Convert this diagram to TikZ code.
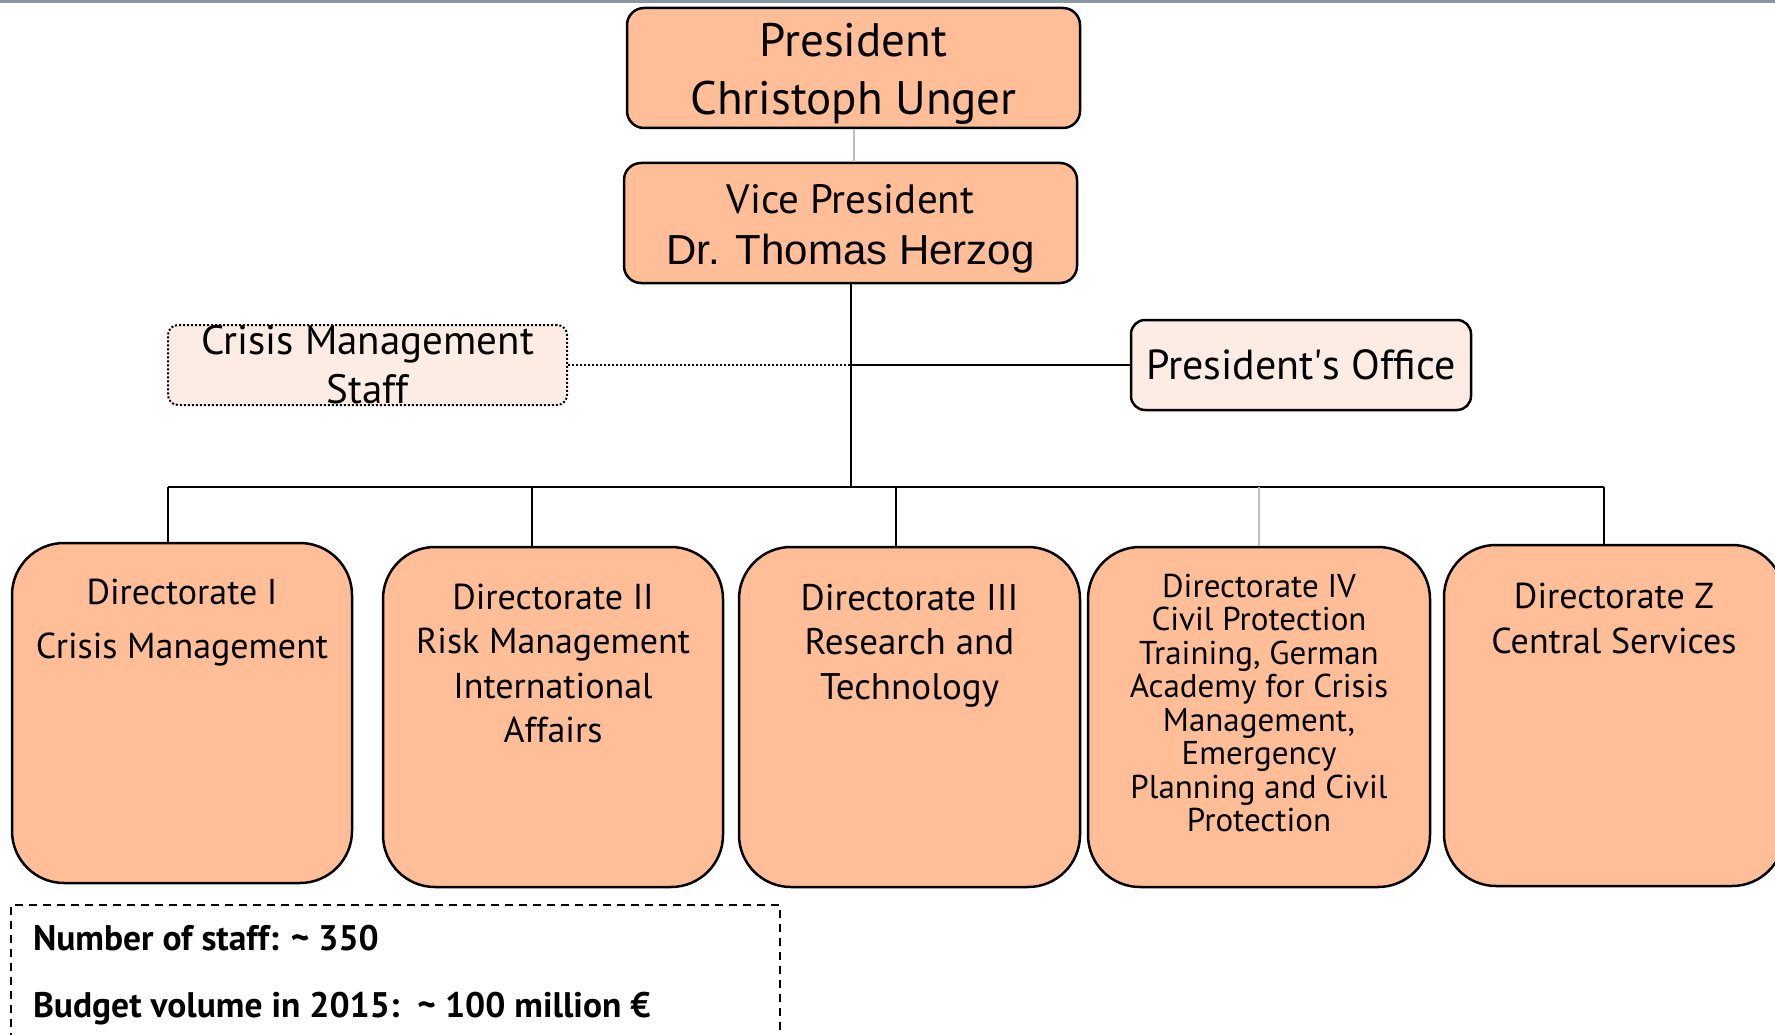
\documentclass[tikz,border=0pt]{standalone}
\usepackage{fontspec}
\setmainfont{PT Sans}
\newfontfamily\namefont{Liberation Sans}
\definecolor{salmon}{RGB}{255,190,152}
\definecolor{blush}{RGB}{253,236,228}
\definecolor{wireGray}{RGB}{190,190,190}
\definecolor{rimGray}{RGB}{138,150,163}
\tikzstyle{headBox}=[draw, line width=2.5pt, rounded corners=17pt, fill=salmon, inner sep=0pt]
\tikzstyle{sideBox}=[draw, line width=2.5pt, rounded corners=14pt, fill=blush, align=center, inner sep=0pt]
\tikzstyle{dirBox}=[draw, line width=2.5pt, rounded corners=52pt, fill=salmon, inner sep=0pt]
\tikzstyle{staffBox}=[draw, dash pattern=on 8pt off 6pt, line width=1.5pt, inner xsep=22pt, inner ysep=0pt]
% text set at the top of a box of fixed size
\newcommand{\topText}[4]{\parbox[c][#2][t]{#1}{\centering\vspace*{#3}#4\par}}

\begin{document}
\begin{tikzpicture}[x=1pt, y=-1pt]
\tikzstyle{wire}=[line width=2pt]
\tikzstyle{greyWire}=[line width=2pt, color=wireGray]
\useasboundingbox (0,0) rectangle (1775,1035);
\draw[line width=2.5pt, rimGray] (0,1.5) -- (1775,1.5);
% heads
\node[headBox] (pres) at (853.5,68) {\topText{453pt}{120pt}{15pt}{\fontsize{47}{58}\selectfont President\\Christoph Unger}};
\node[headBox] (vice) at (850.5,223) {\topText{453pt}{120pt}{21pt}{\fontsize{41}{51}\selectfont Vice President\\{\namefont\fontsize{42}{51}\selectfont Dr. Thomas Herzog}}};
\node[sideBox, dash pattern=on 2pt off 2pt, line width=2pt, rounded corners=10pt, minimum width=399pt, minimum height=80pt, font=\fontsize{41}{49}\selectfont] (cms) at (367.5,365) {Crisis Management\\Staff};
\node[sideBox, minimum width=340pt, minimum height=90pt, font=\fontsize{42}{48}\selectfont] (office) at (1301,365) {President\textquotesingle s Office};
% directorates
\node[dirBox] (dir1) at (182,713) {\topText{340pt}{340pt}{36pt}{\fontsize{36}{54}\selectfont Directorate I\\Crisis Management}};
\node[dirBox] (dir2) at (553,717) {\topText{340pt}{340pt}{37pt}{\fontsize{36}{44.5}\selectfont Directorate II\\Risk Management\\International\\Affairs}};
\node[dirBox] (dir3) at (909.5,717) {\topText{341pt}{340pt}{37pt}{\fontsize{37}{44.5}\selectfont Directorate III\\Research and\\Technology}};
\node[dirBox] (dir4) at (1259,717) {\topText{342pt}{340pt}{27pt}{\fontsize{33}{33.5}\selectfont Directorate IV\\Civil Protection\\Training, German\\Academy for Crisis\\Management,\\Emergency\\Planning and Civil\\Protection}};
\node[dirBox] (dirZ) at (1614,715.5) {\topText{340pt}{341pt}{38pt}{\fontsize{36}{45}\selectfont Directorate Z\\Central Services}};
% figures
\node[staffBox] (staff) at (395.5,975) {\parbox[c][140pt][t]{725pt}{\vspace*{20pt}\fontsize{35.5}{67}\selectfont\bfseries Number of staff: \textasciitilde{} 350\\Budget volume in 2015:\ \ \textasciitilde{} 100 million €}};
% lines
\coordinate (busL) at (168,487);
\coordinate (busR) at (1604,487);
\draw[greyWire] (pres.south) -- (pres.south |- vice.north);
\draw[wire] (vice.south) -- (vice.south |- busL);
\draw[wire] (vice.south |- office.west) -- (office.west);
\draw[wire, dash pattern=on 2pt off 2pt] (cms.east) -- (vice.south |- cms.east);
\draw[wire] (busL) -- (busR);
\draw[wire] (busL) -- (busL |- dir1.north);
\draw[wire] ([xshift=-21pt]dir2.north |- busL) -- ([xshift=-21pt]dir2.north);
\draw[wire] ([xshift=-14pt]dir3.north |- busL) -- ([xshift=-14pt]dir3.north);
\draw[greyWire] (dir4.north |- busL) -- (dir4.north);
\draw[wire] (busR) -- (busR |- dirZ.north);
\end{tikzpicture}
\end{document}
